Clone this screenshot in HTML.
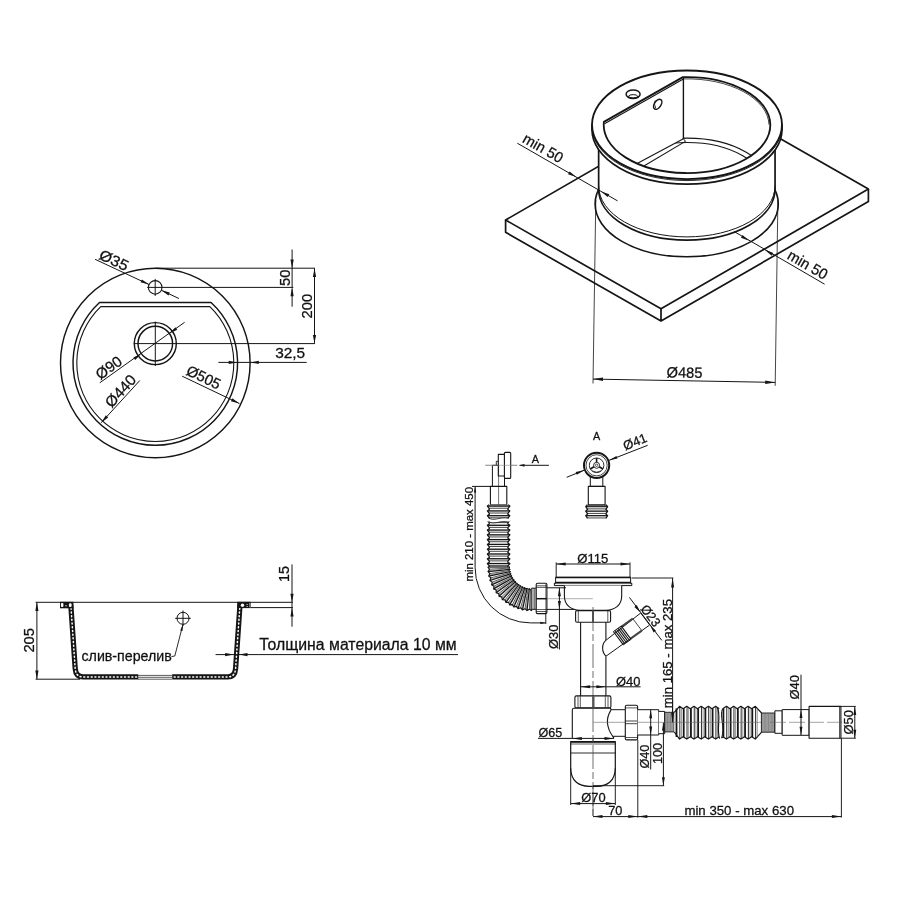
<!DOCTYPE html>
<html><head><meta charset="utf-8"><title>Sink drawing</title>
<style>
html,body{margin:0;padding:0;background:#fff;}
body{width:900px;height:900px;overflow:hidden;}
svg{display:block;filter:grayscale(1)}
svg text{font-family:"Liberation Sans",sans-serif;fill:#111;stroke:#111;stroke-width:0.28px}
</style></head><body>
<svg width="900" height="900" viewBox="0 0 900 900" fill="none" stroke="#151515" stroke-linecap="butt" stroke-linejoin="round">
<rect x="0" y="0" width="900" height="900" fill="#fff" stroke="none"/>
<g id="topview">
<circle cx="155.30" cy="363.00" r="94.80" stroke-width="1.45" fill="none"/>
<path d="M99.51,302.50 L211.09,302.50 A82.3,82.3 0 1 1 99.51,302.50 Z" stroke-width="1.45" fill="none" />
<path d="M100.70,306.60 L209.90,306.60 A78.5,78.5 0 1 1 100.70,306.60 Z" stroke-width="1.1" fill="none" />
<circle cx="155.30" cy="343.60" r="21.00" stroke-width="1.45" fill="none"/>
<circle cx="155.30" cy="343.60" r="17.30" stroke-width="1.45" fill="none"/>
<line x1="133.80" y1="343.60" x2="314.90" y2="343.60" stroke-width="1.0" />
<line x1="155.30" y1="321.60" x2="155.30" y2="366.00" stroke-width="1.0" />
<circle cx="155.20" cy="287.40" r="6.80" stroke-width="1.1" fill="none"/>
<line x1="155.20" y1="278.90" x2="155.20" y2="295.90" stroke-width="1.0" />
<line x1="147.20" y1="287.40" x2="293.30" y2="287.40" stroke-width="1.0" />
<line x1="155.30" y1="268.20" x2="314.90" y2="268.20" stroke-width="1.0" />
<line x1="292.10" y1="249.50" x2="292.10" y2="287.40" stroke-width="1.0" />
<line x1="292.10" y1="288.50" x2="292.10" y2="306.70" stroke-width="1.0" />
<polygon points="292.10,268.20 290.50,259.60 293.70,259.60" fill="#151515" stroke="none"/>
<polygon points="292.10,287.60 293.70,296.20 290.50,296.20" fill="#151515" stroke="none"/>
<text x="290.20" y="286.00" font-size="15" text-anchor="start" textLength="16.3" lengthAdjust="spacingAndGlyphs" transform="rotate(-90.00 290.20 286.00)">50</text>
<line x1="314.50" y1="268.20" x2="314.50" y2="343.60" stroke-width="1.0" />
<polygon points="314.50,268.30 316.10,276.90 312.90,276.90" fill="#151515" stroke="none"/>
<polygon points="314.50,343.50 312.90,334.90 316.10,334.90" fill="#151515" stroke="none"/>
<text x="312.40" y="318.50" font-size="15" text-anchor="start" textLength="24.6" lengthAdjust="spacingAndGlyphs" transform="rotate(-90.00 312.40 318.50)">200</text>
<line x1="218.40" y1="362.40" x2="306.70" y2="362.40" stroke-width="1.0" />
<polygon points="237.30,362.40 228.70,364.00 228.70,360.80" fill="#151515" stroke="none"/>
<polygon points="250.20,362.40 258.80,360.80 258.80,364.00" fill="#151515" stroke="none"/>
<text x="275.20" y="358.20" font-size="15.2" text-anchor="start" textLength="30.0" lengthAdjust="spacingAndGlyphs">32,5</text>
<line x1="95.10" y1="259.30" x2="149.04" y2="284.52" stroke-width="1.0" />
<line x1="161.36" y1="290.28" x2="178.90" y2="298.50" stroke-width="1.0" />
<polygon points="149.04,284.52 140.58,282.32 141.93,279.42" fill="#151515" stroke="none"/>
<polygon points="161.36,290.28 169.82,292.48 168.47,295.38" fill="#151515" stroke="none"/>
<text x="98.00" y="258.40" font-size="15" text-anchor="start" textLength="30.5" lengthAdjust="spacingAndGlyphs" transform="rotate(25.10 98.00 258.40)">Ø35</text>
<line x1="99.80" y1="382.80" x2="184.60" y2="322.30" stroke-width="1.0" />
<polygon points="141.27,353.72 135.23,360.05 133.36,357.45" fill="#151515" stroke="none"/>
<polygon points="169.33,333.48 175.37,327.15 177.24,329.75" fill="#151515" stroke="none"/>
<text x="100.30" y="380.20" font-size="15" text-anchor="start" textLength="28.5" lengthAdjust="spacingAndGlyphs" transform="rotate(-35.80 100.30 380.20)">Ø90</text>
<line x1="101.20" y1="422.70" x2="139.80" y2="380.50" stroke-width="1.0" />
<polygon points="101.20,422.70 105.83,415.28 108.19,417.44" fill="#151515" stroke="none"/>
<text x="111.50" y="408.50" font-size="15" text-anchor="start" textLength="38.0" lengthAdjust="spacingAndGlyphs" transform="rotate(-47.50 111.50 408.50)">Ø440</text>
<line x1="182.20" y1="376.20" x2="239.40" y2="403.50" stroke-width="1.0" />
<polygon points="239.40,403.50 230.95,401.24 232.33,398.35" fill="#151515" stroke="none"/>
<text x="185.20" y="374.20" font-size="15" text-anchor="start" textLength="36.0" lengthAdjust="spacingAndGlyphs" transform="rotate(25.50 185.20 374.20)">Ø505</text>
</g>
<g id="section">
<line x1="35.60" y1="602.30" x2="292.90" y2="602.30" stroke-width="1.0" />
<line x1="35.60" y1="679.20" x2="80.00" y2="679.20" stroke-width="1.0" />
<line x1="36.90" y1="602.30" x2="36.90" y2="679.20" stroke-width="1.0" />
<polygon points="36.90,602.30 38.50,610.90 35.30,610.90" fill="#151515" stroke="none"/>
<polygon points="36.90,679.20 35.30,670.60 38.50,670.60" fill="#151515" stroke="none"/>
<text x="34.20" y="652.60" font-size="15" text-anchor="start" textLength="24.6" lengthAdjust="spacingAndGlyphs" transform="rotate(-90.00 34.20 652.60)">205</text>
<path d="M70.8,604.6 L75.2,668.5 Q75.8,676.9 83.0,676.9 L138.2,676.9" stroke-width="5.3" fill="none" stroke-linejoin="round"/>
<path d="M70.8,604.6 L75.2,668.5 Q75.8,676.9 83.0,676.9 L138.2,676.9" style="stroke:#fff" stroke-width="1.5" stroke-dasharray="1.0 2.7" stroke-linecap="round" fill="none"/>
<path d="M240.0,604.6 L235.6,668.5 Q235.0,676.9 227.8,676.9 L172.2,676.9" stroke-width="5.3" fill="none" stroke-linejoin="round"/>
<path d="M240.0,604.6 L235.6,668.5 Q235.0,676.9 227.8,676.9 L172.2,676.9" style="stroke:#fff" stroke-width="1.5" stroke-dasharray="1.0 2.7" stroke-linecap="round" fill="none"/>
<line x1="138.00" y1="675.40" x2="172.00" y2="675.40" stroke-width="0.7" />
<line x1="138.00" y1="677.30" x2="172.00" y2="677.30" stroke-width="0.7" />
<line x1="138.00" y1="679.20" x2="172.00" y2="679.20" stroke-width="0.7" />
<rect x="60.0" y="601.8" width="13.4" height="6.5" fill="#151515" stroke="none"/>
<rect x="60.9" y="603.1" width="2.5" height="3.9" rx="0.9" fill="#fff" stroke="none"/>
<rect x="65.0" y="605.5" width="2.1" height="0.7" fill="#fff" stroke="none"/>
<rect x="68.9" y="603.3" width="2.7" height="3.8" rx="1.1" fill="#fff" stroke="none"/>
<rect x="237.2" y="601.8" width="13.4" height="6.3" fill="#151515" stroke="none"/>
<circle cx="242.5" cy="605.2" r="1.7" fill="#fff" stroke="none"/>
<rect x="246.4" y="604.4" width="1.6" height="0.6" fill="#fff" stroke="none"/>
<rect x="246.4" y="606.1" width="1.6" height="0.6" fill="#fff" stroke="none"/>
<rect x="249.2" y="603.0" width="0.5" height="4.2" fill="#ddd" stroke="none"/>
<line x1="250.60" y1="607.60" x2="292.90" y2="607.60" stroke-width="1.0" />
<line x1="292.00" y1="564.40" x2="292.00" y2="626.70" stroke-width="1.0" />
<polygon points="292.00,602.30 290.40,593.70 293.60,593.70" fill="#151515" stroke="none"/>
<polygon points="292.00,607.80 293.60,616.40 290.40,616.40" fill="#151515" stroke="none"/>
<text x="289.40" y="581.90" font-size="15" text-anchor="start" textLength="16.0" lengthAdjust="spacingAndGlyphs" transform="rotate(-90.00 289.40 581.90)">15</text>
<circle cx="183.00" cy="618.30" r="6.00" stroke-width="1.0" fill="none"/>
<line x1="175.20" y1="618.30" x2="190.80" y2="618.30" stroke-width="1.0" />
<line x1="183.00" y1="610.50" x2="183.00" y2="626.10" stroke-width="1.0" />
<path d="M182.9,624.6 L174.8,656.0 L171.4,656.6" stroke-width="0.9" fill="none" />
<polygon points="183.00,624.40 182.51,630.99 180.19,630.38" fill="#151515" stroke="none"/>
<text x="81.50" y="661.10" font-size="15.0" text-anchor="start" textLength="90.3" lengthAdjust="spacingAndGlyphs">слив-перелив</text>
<line x1="215.60" y1="654.60" x2="458.00" y2="654.60" stroke-width="1.0" />
<polygon points="233.70,654.60 225.10,656.20 225.10,653.00" fill="#151515" stroke="none"/>
<polygon points="238.90,654.60 247.50,653.00 247.50,656.20" fill="#151515" stroke="none"/>
<text x="259.20" y="650.20" font-size="15.8" text-anchor="start" textLength="197.5" lengthAdjust="spacingAndGlyphs">Толщина материала 10 мм</text>
</g>
<g id="iso">
<path d="M505.6,220.0 L661.0,308.8 L868.4,189.1 L713.0,100.30000000000001 Z" stroke-width="1.7" fill="#fff" />
<path d="M505.6,220.0 V232.3 L661.0,321.1 L868.4,201.4 V189.1 M661.0,308.8 V321.1" stroke-width="1.7" fill="none" />
<ellipse cx="686.70" cy="204.00" rx="91.60" ry="52.80" stroke-width="1.6" fill="#fff" />
<path d="M598.65,125 V189.3 A88.2,50.9 0 0 0 775.0500000000001,189.3 V125 Z" stroke-width="1.7" fill="#fff" />
<path d="M598.65,186.0 A88.2,50.9 0 0 0 775.0500000000001,186.0" stroke-width="1.0" fill="none" />
<path d="M592.0,124.8 V129.8 A95.0,54.3 0 0 0 782.0,129.8 V124.8 Z" stroke-width="1.7" fill="#fff" />
<path d="M592.0,126.3 A95.0,54.3 0 0 0 782.0,126.3" stroke-width="0.9" fill="none" />
<ellipse cx="687.00" cy="124.80" rx="95.00" ry="54.30" stroke-width="1.9" fill="#fff" />
<clipPath id="opn"><path d="M603.9,121.9 A83.3,48.0 0 1 0 682.9,77.1 Z"/></clipPath>
<g clip-path="url(#opn)">
<ellipse cx="687.30" cy="186.10" rx="83.30" ry="48.00" stroke-width="1.1" fill="none" />
<ellipse cx="687.30" cy="187.70" rx="78.50" ry="45.20" stroke-width="1.1" fill="none" />
<path d="M600.9,121.9 L683.5,75.1 V138.5 L600.9,186.3 Z" stroke-width="0" fill="#fff" style="stroke:none"/>
<line x1="683.40" y1="77.00" x2="683.40" y2="138.90" stroke-width="1.4" />
<line x1="683.40" y1="138.70" x2="632.00" y2="166.20" stroke-width="1.1" />
<line x1="685.40" y1="141.40" x2="638.00" y2="169.50" stroke-width="1.1" />
<line x1="683.40" y1="138.70" x2="685.60" y2="141.40" stroke-width="1.0" />
<path d="M683.9,78.89999999999999 A81.7,46.7 0 0 1 768.9999999999999,124.7 " stroke-width="0.8" fill="none" />
</g>
<path d="M603.9,121.9 A83.3,48.0 0 1 0 682.9,77.1 Z" stroke-width="1.8" fill="none" />
<line x1="604.50" y1="123.70" x2="683.40" y2="78.90" stroke-width="1.1" />
<ellipse cx="633.10" cy="94.20" rx="7.00" ry="4.30" stroke-width="1.5" fill="none" />
<path d="M628.4,96.3 A4.8,2.1 0 0 1 637.8,96.3 A4.8,2.1 0 0 1 628.4,96.3" stroke-width="1.0" fill="none" />
<ellipse cx="657.7" cy="104.3" rx="5.6" ry="3.3" stroke-width="1.5" transform="rotate(-56 657.7 104.3)"/>
<path d="M655.2,100.5 Q653.6,104 655.6,108.0" stroke-width="0.9"/>
<line x1="517.30" y1="143.20" x2="617.60" y2="200.90" stroke-width="1.0" />
<polygon points="576.20,177.10 568.03,174.25 569.63,171.48" fill="#151515" stroke="none"/>
<polygon points="601.10,191.50 609.27,194.35 607.67,197.12" fill="#151515" stroke="none"/>
<text x="521.60" y="141.70" font-size="15" text-anchor="start" textLength="43.6" lengthAdjust="spacingAndGlyphs" transform="rotate(29.90 521.60 141.70)">min 50</text>
<line x1="734.20" y1="231.60" x2="824.60" y2="284.20" stroke-width="1.0" />
<polygon points="749.10,240.70 740.95,237.81 742.56,235.04" fill="#151515" stroke="none"/>
<polygon points="764.30,249.50 773.32,252.90 771.71,255.66" fill="#151515" stroke="none"/>
<text x="786.20" y="258.20" font-size="15" text-anchor="start" textLength="43.6" lengthAdjust="spacingAndGlyphs" transform="rotate(30.20 786.20 258.20)">min 50</text>
<line x1="595.80" y1="200.00" x2="593.00" y2="383.50" stroke-width="0.8" />
<line x1="777.90" y1="200.00" x2="775.20" y2="385.80" stroke-width="0.8" />
<line x1="593.00" y1="379.10" x2="775.20" y2="382.40" stroke-width="1.0" />
<polygon points="593.00,379.10 603.03,377.57 602.97,380.97" fill="#151515" stroke="none"/>
<polygon points="775.20,382.40 765.17,383.93 765.23,380.53" fill="#151515" stroke="none"/>
<text x="666.60" y="377.30" font-size="14.7" text-anchor="start" textLength="35.8" lengthAdjust="spacingAndGlyphs" transform="rotate(1.00 666.60 377.30)">Ø485</text>
</g>
<g id="siphon">
<line x1="485.30" y1="465.30" x2="517.30" y2="465.30" stroke-width="0.7" style="stroke:#888"/>
<rect x="492.40" y="465.30" width="12.10" height="21.20" rx="0" ry="0" stroke-width="1.0" fill="#fff"/>
<rect x="496.30" y="461.30" width="2.20" height="4.00" rx="0" ry="0" stroke-width="0.9" fill="#fff"/>
<rect x="498.30" y="454.40" width="6.30" height="21.60" rx="0.3" ry="0.3" stroke-width="1.1" fill="#fff"/>
<rect x="504.40" y="452.40" width="6.30" height="26.00" rx="1.0" ry="1.0" stroke-width="1.1" fill="#fff"/>
<line x1="485.30" y1="465.30" x2="517.30" y2="465.30" stroke-width="0.6" style="stroke:#888"/>
<rect x="490.40" y="486.40" width="16.40" height="18.40" rx="0" ry="0" stroke-width="1.1" fill="#fff"/>
<line x1="498.60" y1="465.50" x2="498.60" y2="566.00" stroke-width="0.6" />
<line x1="519.50" y1="465.30" x2="548.90" y2="465.30" stroke-width="1.0" />
<polygon points="519.30,465.30 524.50,463.90 524.50,466.70" fill="#151515" stroke="none"/>
<text x="535.30" y="463.30" font-size="10.8" text-anchor="middle">A</text>
<rect x="488.60" y="504.80" width="20.00" height="62.20" fill="#fff" stroke="none"/>
<line x1="487.70" y1="506.14" x2="509.50" y2="506.14" stroke-width="1.35" />
<line x1="489.30" y1="508.24" x2="507.90" y2="508.24" stroke-width="0.8" />
<line x1="487.70" y1="510.92" x2="509.50" y2="510.92" stroke-width="1.35" />
<line x1="489.30" y1="513.03" x2="507.90" y2="513.03" stroke-width="0.8" />
<line x1="487.70" y1="515.71" x2="509.50" y2="515.71" stroke-width="1.35" />
<line x1="489.30" y1="517.81" x2="507.90" y2="517.81" stroke-width="0.8" />
<line x1="487.70" y1="520.49" x2="509.50" y2="520.49" stroke-width="1.35" />
<line x1="489.30" y1="522.60" x2="507.90" y2="522.60" stroke-width="0.8" />
<line x1="487.70" y1="525.28" x2="509.50" y2="525.28" stroke-width="1.35" />
<line x1="489.30" y1="527.38" x2="507.90" y2="527.38" stroke-width="0.8" />
<line x1="487.70" y1="530.06" x2="509.50" y2="530.06" stroke-width="1.35" />
<line x1="489.30" y1="532.17" x2="507.90" y2="532.17" stroke-width="0.8" />
<line x1="487.70" y1="534.85" x2="509.50" y2="534.85" stroke-width="1.35" />
<line x1="489.30" y1="536.95" x2="507.90" y2="536.95" stroke-width="0.8" />
<line x1="487.70" y1="539.63" x2="509.50" y2="539.63" stroke-width="1.35" />
<line x1="489.30" y1="541.74" x2="507.90" y2="541.74" stroke-width="0.8" />
<line x1="487.70" y1="544.42" x2="509.50" y2="544.42" stroke-width="1.35" />
<line x1="489.30" y1="546.52" x2="507.90" y2="546.52" stroke-width="0.8" />
<line x1="487.70" y1="549.20" x2="509.50" y2="549.20" stroke-width="1.35" />
<line x1="489.30" y1="551.31" x2="507.90" y2="551.31" stroke-width="0.8" />
<line x1="487.70" y1="553.99" x2="509.50" y2="553.99" stroke-width="1.35" />
<line x1="489.30" y1="556.09" x2="507.90" y2="556.09" stroke-width="0.8" />
<line x1="487.70" y1="558.77" x2="509.50" y2="558.77" stroke-width="1.35" />
<line x1="489.30" y1="560.88" x2="507.90" y2="560.88" stroke-width="0.8" />
<line x1="487.70" y1="563.56" x2="509.50" y2="563.56" stroke-width="1.35" />
<line x1="489.30" y1="565.66" x2="507.90" y2="565.66" stroke-width="0.8" />
<path d="M489.20,504.80 L487.40,506.14 L489.30,508.53 L489.30,509.58 L487.40,510.92 L489.30,513.32 L489.30,514.37 L487.40,515.71 L489.30,518.10 L489.30,519.15 L487.40,520.49 L489.30,522.89 L489.30,523.94 L487.40,525.28 L489.30,527.67 L489.30,528.72 L487.40,530.06 L489.30,532.46 L489.30,533.51 L487.40,534.85 L489.30,537.24 L489.30,538.29 L487.40,539.63 L489.30,542.02 L489.30,543.08 L487.40,544.42 L489.30,546.81 L489.30,547.86 L487.40,549.20 L489.30,551.59 L489.30,552.65 L487.40,553.99 L489.30,556.38 L489.30,557.43 L487.40,558.77 L489.30,561.16 L489.30,562.22 L487.40,563.56 L489.30,565.95 L489.30,567.00 " stroke-width="1.3" fill="none" />
<path d="M508.00,504.80 L509.80,506.14 L507.90,508.53 L507.90,509.58 L509.80,510.92 L507.90,513.32 L507.90,514.37 L509.80,515.71 L507.90,518.10 L507.90,519.15 L509.80,520.49 L507.90,522.89 L507.90,523.94 L509.80,525.28 L507.90,527.67 L507.90,528.72 L509.80,530.06 L507.90,532.46 L507.90,533.51 L509.80,534.85 L507.90,537.24 L507.90,538.29 L509.80,539.63 L507.90,542.02 L507.90,543.08 L509.80,544.42 L507.90,546.81 L507.90,547.86 L509.80,549.20 L507.90,551.59 L507.90,552.65 L509.80,553.99 L507.90,556.38 L507.90,557.43 L509.80,558.77 L507.90,561.16 L507.90,562.22 L509.80,563.56 L507.90,565.95 L507.90,567.00 " stroke-width="1.3" fill="none" />
<rect x="488.59999999999997" y="505.0" width="20.000000000000036" height="1.5" fill="#555" stroke="none"/>
<path d="M486.4,519.4 C494,524 500,517 510.8,520.2 " stroke-width="3.4" fill="none" style="stroke:#fff"/>
<path d="M488.4,517.6 C494,522.1 500,516.1 508.8,518.4" stroke-width="0.8" fill="none" />
<path d="M488.4,521.2 C494,525.8 500,519.6 508.8,522.2" stroke-width="0.8" fill="none" />
<line x1="510.00" y1="567.00" x2="487.80" y2="567.00" stroke-width="1.25" />
<line x1="509.03" y1="568.18" x2="489.66" y2="569.20" stroke-width="0.7" />
<line x1="502.10" y1="569.42" x2="488.94" y2="570.49" stroke-width="0.5" style="stroke:#555"/>
<line x1="510.12" y1="569.26" x2="488.04" y2="571.58" stroke-width="1.25" />
<line x1="509.28" y1="570.54" x2="490.12" y2="573.57" stroke-width="0.7" />
<line x1="502.51" y1="572.49" x2="489.54" y2="574.93" stroke-width="0.5" style="stroke:#555"/>
<line x1="510.47" y1="571.49" x2="488.76" y2="576.11" stroke-width="1.25" />
<line x1="509.77" y1="572.85" x2="491.03" y2="577.87" stroke-width="0.7" />
<line x1="503.25" y1="575.50" x2="490.60" y2="579.28" stroke-width="0.5" style="stroke:#555"/>
<line x1="511.06" y1="573.67" x2="489.94" y2="580.53" stroke-width="1.25" />
<line x1="510.50" y1="575.10" x2="492.39" y2="582.05" stroke-width="0.7" />
<line x1="504.29" y1="578.41" x2="492.11" y2="583.50" stroke-width="0.5" style="stroke:#555"/>
<line x1="511.87" y1="575.79" x2="491.59" y2="584.82" stroke-width="1.25" />
<line x1="511.46" y1="577.26" x2="494.18" y2="586.07" stroke-width="0.7" />
<line x1="505.63" y1="581.21" x2="494.05" y2="587.54" stroke-width="0.5" style="stroke:#555"/>
<line x1="512.89" y1="577.80" x2="493.67" y2="588.90" stroke-width="1.25" />
<line x1="512.65" y1="579.31" x2="496.38" y2="589.87" stroke-width="0.7" />
<line x1="507.26" y1="583.84" x2="496.40" y2="591.35" stroke-width="0.5" style="stroke:#555"/>
<line x1="514.13" y1="579.70" x2="496.17" y2="592.74" stroke-width="1.25" />
<line x1="514.04" y1="581.22" x2="498.96" y2="593.43" stroke-width="0.7" />
<line x1="509.15" y1="586.29" x2="499.14" y2="594.90" stroke-width="0.5" style="stroke:#555"/>
<line x1="515.55" y1="581.45" x2="499.05" y2="596.31" stroke-width="1.25" />
<line x1="515.62" y1="582.98" x2="501.90" y2="596.70" stroke-width="0.7" />
<line x1="511.29" y1="588.53" x2="502.24" y2="598.14" stroke-width="0.5" style="stroke:#555"/>
<line x1="517.15" y1="583.05" x2="502.29" y2="599.55" stroke-width="1.25" />
<line x1="517.38" y1="584.56" x2="505.17" y2="599.64" stroke-width="0.7" />
<line x1="513.65" y1="590.54" x2="505.65" y2="601.04" stroke-width="0.5" style="stroke:#555"/>
<line x1="518.90" y1="584.47" x2="505.86" y2="602.43" stroke-width="1.25" />
<line x1="519.29" y1="585.95" x2="508.73" y2="602.22" stroke-width="0.7" />
<line x1="516.21" y1="592.29" x2="509.35" y2="603.56" stroke-width="0.5" style="stroke:#555"/>
<line x1="520.80" y1="585.71" x2="509.70" y2="604.93" stroke-width="1.25" />
<line x1="521.34" y1="587.14" x2="512.53" y2="604.42" stroke-width="0.7" />
<line x1="518.94" y1="593.76" x2="513.30" y2="605.69" stroke-width="0.5" style="stroke:#555"/>
<line x1="522.81" y1="586.73" x2="513.78" y2="607.01" stroke-width="1.25" />
<line x1="523.50" y1="588.10" x2="516.55" y2="606.21" stroke-width="0.7" />
<line x1="521.81" y1="594.93" x2="517.44" y2="607.39" stroke-width="0.5" style="stroke:#555"/>
<line x1="524.93" y1="587.54" x2="518.07" y2="608.66" stroke-width="1.25" />
<line x1="525.75" y1="588.83" x2="520.73" y2="607.57" stroke-width="0.7" />
<line x1="524.78" y1="595.80" x2="521.74" y2="608.65" stroke-width="0.5" style="stroke:#555"/>
<line x1="527.11" y1="588.13" x2="522.49" y2="609.84" stroke-width="1.25" />
<line x1="528.06" y1="589.32" x2="525.03" y2="608.48" stroke-width="0.7" />
<line x1="527.83" y1="596.36" x2="526.15" y2="609.45" stroke-width="0.5" style="stroke:#555"/>
<line x1="529.34" y1="588.48" x2="527.02" y2="610.56" stroke-width="1.25" />
<line x1="530.42" y1="589.57" x2="529.40" y2="608.94" stroke-width="0.7" />
<line x1="530.92" y1="596.59" x2="530.61" y2="609.79" stroke-width="0.5" style="stroke:#555"/>
<line x1="531.60" y1="588.60" x2="531.60" y2="610.80" stroke-width="1.25" />
<path d="M487.80,567.00 L489.46,569.21 L488.04,571.58 L489.92,573.60 L488.76,576.11 L490.84,577.92 L489.94,580.53 L492.20,582.12 L491.59,584.82 L494.00,586.16 L493.67,588.90 L496.21,589.98 L496.17,592.74 L498.80,593.56 L499.05,596.31 L501.76,596.84 L502.29,599.55 L505.04,599.80 L505.86,602.43 L508.62,602.39 L509.70,604.93 L512.44,604.60 L513.78,607.01 L516.48,606.40 L518.07,608.66 L520.68,607.76 L522.49,609.84 L525.00,608.68 L527.02,610.56 L529.39,609.14 L531.60,610.80 " stroke-width="1.2" fill="none" />
<path d="M510.00,567.00 L508.83,568.19 L510.12,569.26 L509.08,570.57 L510.47,571.49 L509.58,572.90 L511.06,573.67 L510.31,575.17 L511.87,575.79 L511.29,577.35 L512.89,577.80 L512.48,579.42 L514.13,579.70 L513.88,581.35 L515.55,581.45 L515.48,583.12 L517.15,583.05 L517.25,584.72 L518.90,584.47 L519.18,586.12 L520.80,585.71 L521.25,587.31 L522.81,586.73 L523.43,588.29 L524.93,587.54 L525.70,589.02 L527.11,588.13 L528.03,589.52 L529.34,588.48 L530.41,589.77 L531.60,588.60 " stroke-width="1.0" fill="none" />
<rect x="531.20" y="588.20" width="5.20" height="21.10" rx="0.5" ry="0.5" stroke-width="1.0" fill="#fff"/>
<line x1="533.00" y1="588.20" x2="533.00" y2="609.30" stroke-width="0.7" />
<line x1="534.70" y1="588.20" x2="534.70" y2="609.30" stroke-width="0.7" />
<rect x="536.20" y="583.30" width="10.70" height="30.30" rx="1.3" ry="1.3" stroke-width="1.1" fill="#fff"/>
<line x1="536.20" y1="585.80" x2="546.90" y2="585.80" stroke-width="0.7" />
<line x1="536.20" y1="587.40" x2="546.90" y2="587.40" stroke-width="0.7" />
<line x1="536.20" y1="598.70" x2="546.90" y2="598.70" stroke-width="1.5" />
<line x1="536.20" y1="609.50" x2="546.90" y2="609.50" stroke-width="0.7" />
<line x1="536.20" y1="611.50" x2="546.90" y2="611.50" stroke-width="0.7" />
<line x1="545.80" y1="584.00" x2="545.80" y2="613.00" stroke-width="0.6" />
<line x1="546.90" y1="587.80" x2="566.00" y2="587.80" stroke-width="1.0" />
<line x1="546.90" y1="609.40" x2="575.00" y2="609.40" stroke-width="1.0" />
<line x1="546.90" y1="598.70" x2="592.80" y2="598.70" stroke-width="0.6" style="stroke:#777"/>
<line x1="472.00" y1="486.40" x2="490.40" y2="486.40" stroke-width="1.0" />
<path d="M475.1,486.4 V567.5 A55.4,55.4 0 0 0 530.5,622.9 H545.7" stroke-width="1.0" fill="none" />
<polygon points="475.10,486.50 476.25,492.50 473.95,492.50" fill="#151515" stroke="none"/>
<polygon points="545.80,622.90 540.30,624.05 540.30,621.75" fill="#151515" stroke="none"/>
<line x1="545.80" y1="613.60" x2="545.80" y2="624.00" stroke-width="0.95" />
<text x="473.30" y="581.60" font-size="11.4" text-anchor="start" textLength="94.6" lengthAdjust="spacingAndGlyphs" transform="rotate(-90.00 473.30 581.60)">min 210 - max 450</text>
<line x1="559.40" y1="587.80" x2="559.40" y2="649.50" stroke-width="1.0" />
<polygon points="559.40,587.80 560.90,596.30 557.90,596.30" fill="#151515" stroke="none"/>
<polygon points="559.40,609.40 557.90,600.90 560.90,600.90" fill="#151515" stroke="none"/>
<text x="557.60" y="649.00" font-size="13.0" text-anchor="start" textLength="24.4" lengthAdjust="spacingAndGlyphs" transform="rotate(-90.00 557.60 649.00)">Ø30</text>
<line x1="556.20" y1="562.40" x2="556.20" y2="577.00" stroke-width="0.95" />
<line x1="630.00" y1="562.40" x2="630.00" y2="577.00" stroke-width="0.95" />
<line x1="556.20" y1="564.00" x2="630.00" y2="564.00" stroke-width="1.0" />
<polygon points="556.20,564.00 565.70,562.50 565.70,565.50" fill="#151515" stroke="none"/>
<polygon points="630.00,564.00 620.50,565.50 620.50,562.50" fill="#151515" stroke="none"/>
<text x="577.30" y="562.60" font-size="13.0" text-anchor="start" textLength="31.1" lengthAdjust="spacingAndGlyphs">Ø115</text>
<path d="M555.6,577.3 H630.6 V583.2 H631.8 V585.6 H554.4 V583.2 H555.6 Z" stroke-width="1.0" fill="#fff" />
<line x1="555.60" y1="577.50" x2="630.60" y2="577.50" stroke-width="1.7" />
<line x1="555.60" y1="582.30" x2="630.60" y2="582.30" stroke-width="1.3" />
<line x1="554.40" y1="583.60" x2="631.80" y2="583.60" stroke-width="0.7" />
<path d="M564.4,585.6 V596 C564.4,605.5 571.5,610.2 580,610.2 H606 C614.5,610.2 621.7,605.5 621.7,596 V585.6" stroke-width="1.1" fill="#fff" />
<line x1="565.00" y1="598.70" x2="592.80" y2="598.70" stroke-width="0.6" style="stroke:#777"/>
<line x1="566.00" y1="587.80" x2="564.60" y2="587.80" stroke-width="1.0" />
<rect x="575.60" y="610.60" width="35.00" height="11.60" rx="1.5" ry="1.5" stroke-width="1.1" fill="#fff"/>
<line x1="578.30" y1="611.00" x2="578.30" y2="622.00" stroke-width="0.7" />
<line x1="607.80" y1="611.00" x2="607.80" y2="622.00" stroke-width="0.7" />
<line x1="593.00" y1="610.60" x2="593.00" y2="622.20" stroke-width="1.8" style="stroke:#444"/>
<line x1="580.60" y1="622.20" x2="580.60" y2="696.00" stroke-width="1.1" />
<line x1="605.90" y1="622.20" x2="605.90" y2="640.20" stroke-width="1.1" />
<line x1="605.90" y1="656.20" x2="605.90" y2="696.00" stroke-width="1.1" />
<line x1="593.00" y1="607.00" x2="593.00" y2="817.40" stroke-width="0.8" stroke-dasharray="24 3 7 3" style="stroke:#4a4a4a"/>
<line x1="580.60" y1="686.80" x2="640.60" y2="686.80" stroke-width="1.0" />
<polygon points="580.60,686.80 590.10,685.30 590.10,688.30" fill="#151515" stroke="none"/>
<polygon points="605.90,686.80 596.40,688.30 596.40,685.30" fill="#151515" stroke="none"/>
<text x="616.00" y="685.80" font-size="13.0" text-anchor="start" textLength="24.4" lengthAdjust="spacingAndGlyphs">Ø40</text>
</g>
<g id="siphon2">
<path d="M606.0,640.2 L640.7,613.0 L649.7,625.0 L606.0,656.2" stroke-width="1.0" fill="#fff" />
<path d="M606.0,640.2 C601.5,644 601.5,652 606.0,656.2" stroke-width="1.1" fill="#fff" />
<line x1="632.81" y1="618.65" x2="641.81" y2="630.65" stroke-width="0.8" />
<line x1="632.81" y1="618.65" x2="621.59" y2="626.68" stroke-width="2.0" style="stroke:#444"/>
<line x1="641.81" y1="630.65" x2="630.59" y2="638.68" stroke-width="2.0" style="stroke:#444"/>
<line x1="621.07" y1="625.95" x2="631.12" y2="639.41" stroke-width="1.1" />
<line x1="619.52" y1="627.05" x2="629.57" y2="640.52" stroke-width="1.1" />
<line x1="617.98" y1="628.16" x2="628.03" y2="641.62" stroke-width="1.1" />
<line x1="616.43" y1="629.27" x2="626.48" y2="642.73" stroke-width="1.1" />
<line x1="614.89" y1="630.37" x2="624.94" y2="643.84" stroke-width="1.1" />
<line x1="613.34" y1="631.48" x2="623.39" y2="644.94" stroke-width="1.1" />
<line x1="621.13" y1="626.03" x2="613.40" y2="631.56" stroke-width="0.9" />
<line x1="631.06" y1="639.33" x2="623.33" y2="644.86" stroke-width="0.9" />
<line x1="629.40" y1="597.40" x2="661.80" y2="640.40" stroke-width="1.0" />
<polygon points="640.40,612.40 634.39,606.91 636.78,605.11" fill="#151515" stroke="none"/>
<polygon points="650.00,625.30 656.01,630.79 653.62,632.59" fill="#151515" stroke="none"/>
<text x="639.90" y="608.90" font-size="13.0" text-anchor="start" textLength="23.5" lengthAdjust="spacingAndGlyphs" transform="rotate(53.00 639.90 608.90)">Ø23</text>
<line x1="631.60" y1="578.00" x2="673.30" y2="578.00" stroke-width="0.95" />
<line x1="672.60" y1="578.00" x2="672.60" y2="722.30" stroke-width="1.0" />
<polygon points="672.60,578.00 674.10,587.50 671.10,587.50" fill="#151515" stroke="none"/>
<polygon points="672.60,722.30 671.10,712.80 674.10,712.80" fill="#151515" stroke="none"/>
<text x="672.20" y="708.20" font-size="13.2" text-anchor="start" textLength="109.2" lengthAdjust="spacingAndGlyphs" transform="rotate(-90.00 672.20 708.20)">min 165 - max 235</text>
<text x="596.60" y="440.00" font-size="10.8" text-anchor="middle">A</text>
<rect x="590.30" y="476.00" width="12.50" height="10.40" rx="0" ry="0" stroke-width="1.0" fill="#fff"/>
<rect x="588.30" y="486.40" width="16.80" height="18.40" rx="0" ry="0" stroke-width="1.1" fill="#fff"/>
<circle cx="596.60" cy="465.30" r="12.60" stroke-width="2.0" fill="#fff"/>
<circle cx="596.60" cy="465.30" r="10.60" stroke-width="0.8" fill="none"/>
<circle cx="596.60" cy="465.30" r="7.30" stroke-width="0.9" fill="none"/>
<circle cx="596.60" cy="465.30" r="3.00" stroke-width="0.9" fill="none"/>
<circle cx="596.60" cy="465.30" r="1.20" stroke-width="0.7" fill="none"/>
<line x1="596.60" y1="462.30" x2="596.60" y2="458.00" stroke-width="1.6" />
<line x1="599.20" y1="466.80" x2="602.92" y2="468.95" stroke-width="1.6" />
<line x1="594.00" y1="466.80" x2="590.28" y2="468.95" stroke-width="1.6" />
<path d="M592.1,470.90000000000003 Q596.6,473.5 601.1,470.90000000000003" stroke-width="0.7" fill="none" />
<line x1="585.80" y1="506.61" x2="607.60" y2="506.61" stroke-width="1.3" />
<line x1="587.60" y1="508.88" x2="605.80" y2="508.88" stroke-width="0.8" />
<line x1="585.80" y1="511.15" x2="607.60" y2="511.15" stroke-width="1.3" />
<line x1="587.60" y1="513.41" x2="605.80" y2="513.41" stroke-width="0.8" />
<line x1="585.80" y1="515.68" x2="607.60" y2="515.68" stroke-width="1.3" />
<line x1="587.60" y1="517.95" x2="605.80" y2="517.95" stroke-width="0.8" />
<path d="M587.40,504.80 L585.80,506.61 L587.60,509.33 L585.80,511.15 L587.60,513.87 L585.80,515.68 L587.60,518.40 " stroke-width="1.3" fill="none" />
<path d="M606.00,504.80 L607.60,506.61 L605.80,509.33 L607.60,511.15 L605.80,513.87 L607.60,515.68 L605.80,518.40 " stroke-width="1.3" fill="none" />
<rect x="587.2" y="505.0" width="19" height="1.4" fill="#555" stroke="none"/>
<line x1="566.70" y1="477.30" x2="584.14" y2="470.23" stroke-width="1.0" />
<line x1="609.06" y1="460.37" x2="647.70" y2="445.30" stroke-width="1.0" />
<polygon points="584.14,470.23 576.77,474.71 575.70,472.01" fill="#151515" stroke="none"/>
<polygon points="609.06,460.37 616.43,455.89 617.50,458.59" fill="#151515" stroke="none"/>
<text x="625.30" y="450.40" font-size="13.0" text-anchor="start" textLength="24.4" lengthAdjust="spacingAndGlyphs" transform="rotate(-21.60 625.30 450.40)">Ø41</text>
<rect x="574.90" y="695.90" width="36.00" height="12.00" rx="1.5" ry="1.5" stroke-width="1.1" fill="#fff"/>
<line x1="578.00" y1="696.20" x2="578.00" y2="707.60" stroke-width="0.7" />
<line x1="580.30" y1="696.20" x2="580.30" y2="707.60" stroke-width="0.7" />
<line x1="605.30" y1="696.20" x2="605.30" y2="707.60" stroke-width="0.7" />
<line x1="608.00" y1="696.20" x2="608.00" y2="707.60" stroke-width="0.7" />
<line x1="593.30" y1="695.90" x2="593.30" y2="707.90" stroke-width="2.4" style="stroke:#555"/>
<path d="M572.3,738.3 V710 Q572.3,708.3 574,708.3 H610 Q611.6,708.6 610.6,710.6 C606.2,718 606.2,727 612.7,736.3 L614.0,738.3" stroke-width="1.1" fill="#fff" />
<line x1="611.00" y1="709.70" x2="625.30" y2="709.70" stroke-width="1.0" />
<line x1="612.70" y1="736.30" x2="625.30" y2="736.30" stroke-width="1.0" />
<line x1="593.30" y1="722.30" x2="672.00" y2="722.30" stroke-width="0.6" style="stroke:#666"/>
<rect x="625.30" y="705.30" width="12.30" height="34.60" rx="1.5" ry="1.5" stroke-width="1.1" fill="#fff"/>
<line x1="625.30" y1="707.90" x2="637.60" y2="707.90" stroke-width="0.7" />
<line x1="625.30" y1="737.50" x2="637.60" y2="737.50" stroke-width="0.7" />
<line x1="625.30" y1="721.00" x2="637.60" y2="721.00" stroke-width="0.8" />
<line x1="625.30" y1="723.70" x2="637.60" y2="723.70" stroke-width="0.8" />
<path d="M637.6,709.7 H658.7 V735.0 H637.6" stroke-width="1.0" fill="#fff" />
<path d="M658.7,711.4 H664.7 V733.7 H658.7" stroke-width="1.0" fill="#fff" />
<rect x="664.7" y="712.3" width="9.5" height="19.6" fill="#9a9a9a" stroke-width="0.9"/>
<line x1="637.60" y1="722.30" x2="676.00" y2="722.30" stroke-width="0.6" style="stroke:#666"/>
<line x1="538.00" y1="738.40" x2="614.00" y2="738.40" stroke-width="1.0" />
<polygon points="572.30,738.40 581.80,736.90 581.80,739.90" fill="#151515" stroke="none"/>
<polygon points="614.00,738.40 604.50,739.90 604.50,736.90" fill="#151515" stroke="none"/>
<text x="538.40" y="737.00" font-size="13.0" text-anchor="start" textLength="23.8" lengthAdjust="spacingAndGlyphs">Ø65</text>
<path d="M570.7,741.7 H615.3 V768 C615.3,781 607,786.3 597,786.3 H589 C579,786.3 570.7,781 570.7,768 Z" stroke-width="1.2" fill="#fff" />
<line x1="570.70" y1="742.00" x2="615.30" y2="742.00" stroke-width="1.4" />
<line x1="570.70" y1="744.00" x2="615.30" y2="744.00" stroke-width="0.7" />
<line x1="570.70" y1="753.00" x2="615.30" y2="753.00" stroke-width="0.9" />
<line x1="593.00" y1="708.00" x2="593.00" y2="817.40" stroke-width="0.8" stroke-dasharray="24 3 7 3" style="stroke:#4a4a4a"/>
<line x1="570.70" y1="768.00" x2="570.70" y2="805.00" stroke-width="0.95" />
<line x1="615.30" y1="768.00" x2="615.30" y2="805.00" stroke-width="0.95" />
<line x1="570.70" y1="803.60" x2="615.30" y2="803.60" stroke-width="1.0" />
<polygon points="570.70,803.60 580.20,802.10 580.20,805.10" fill="#151515" stroke="none"/>
<polygon points="615.30,803.60 605.80,805.10 605.80,802.10" fill="#151515" stroke="none"/>
<text x="581.20" y="802.20" font-size="13.0" text-anchor="start" textLength="24.4" lengthAdjust="spacingAndGlyphs">Ø70</text>
<line x1="637.80" y1="739.90" x2="637.80" y2="817.60" stroke-width="0.95" />
<line x1="593.00" y1="816.60" x2="841.40" y2="816.60" stroke-width="1.0" />
<polygon points="593.00,816.60 602.50,815.10 602.50,818.10" fill="#151515" stroke="none"/>
<polygon points="637.80,816.60 628.30,818.10 628.30,815.10" fill="#151515" stroke="none"/>
<polygon points="637.80,816.60 647.30,815.10 647.30,818.10" fill="#151515" stroke="none"/>
<polygon points="841.40,816.60 831.90,818.10 831.90,815.10" fill="#151515" stroke="none"/>
<text x="608.20" y="815.00" font-size="13.0" text-anchor="start" textLength="14.2" lengthAdjust="spacingAndGlyphs">70</text>
<text x="684.40" y="815.30" font-size="13.2" text-anchor="start" textLength="109.6" lengthAdjust="spacingAndGlyphs">min 350 - max 630</text>
<line x1="841.40" y1="738.20" x2="841.40" y2="817.60" stroke-width="0.95" />
<line x1="593.00" y1="785.70" x2="664.20" y2="785.70" stroke-width="0.95" />
<line x1="663.40" y1="722.60" x2="663.40" y2="785.70" stroke-width="1.0" />
<polygon points="663.40,785.50 661.95,777.30 664.85,777.30" fill="#151515" stroke="none"/>
<polygon points="663.40,723.00 664.80,730.60 662.00,730.60" fill="#151515" stroke="none"/>
<text x="662.00" y="763.90" font-size="13.0" text-anchor="start" textLength="21.0" lengthAdjust="spacingAndGlyphs" transform="rotate(-90.00 662.00 763.90)">100</text>
<line x1="650.70" y1="709.70" x2="650.70" y2="769.50" stroke-width="1.0" />
<polygon points="650.70,709.70 652.15,718.20 649.25,718.20" fill="#151515" stroke="none"/>
<polygon points="650.70,735.00 649.25,726.50 652.15,726.50" fill="#151515" stroke="none"/>
<text x="648.80" y="768.60" font-size="13.0" text-anchor="start" textLength="24.0" lengthAdjust="spacingAndGlyphs" transform="rotate(-90.00 648.80 768.60)">Ø40</text>
<polygon points="674.30,712.30 679.50,706.30 683.11,708.70 686.72,706.30 690.33,708.70 693.94,706.30 697.55,708.70 701.16,706.30 704.77,708.70 708.38,706.30 711.99,708.70 715.60,706.30 719.21,708.70 719.21,736.70 715.60,739.10 711.99,736.70 708.38,739.10 704.77,736.70 701.16,739.10 697.55,736.70 693.94,739.10 690.33,736.70 686.72,739.10 683.11,736.70 679.50,739.10 674.30,732.00" fill="#fff" stroke="none"/>
<path d="M674.30,712.30 L679.50,706.30 L683.11,708.70 L686.72,706.30 L690.33,708.70 L693.94,706.30 L697.55,708.70 L701.16,706.30 L704.77,708.70 L708.38,706.30 L711.99,708.70 L715.60,706.30 L719.21,708.70" stroke-width="1.2" fill="none" />
<path d="M674.30,732.00 L679.50,739.10 L683.11,736.70 L686.72,739.10 L690.33,736.70 L693.94,739.10 L697.55,736.70 L701.16,739.10 L704.77,736.70 L708.38,739.10 L711.99,736.70 L715.60,739.10 L719.21,736.70" stroke-width="1.2" fill="none" />
<line x1="679.80" y1="706.70" x2="679.80" y2="738.70" stroke-width="0.9" />
<line x1="676.49" y1="708.40" x2="676.49" y2="737.00" stroke-width="1.8" />
<line x1="681.45" y1="707.74" x2="681.45" y2="737.66" stroke-width="0.6" style="stroke:#555"/>
<line x1="687.02" y1="706.70" x2="687.02" y2="738.70" stroke-width="0.9" />
<line x1="683.71" y1="708.40" x2="683.71" y2="737.00" stroke-width="1.8" />
<line x1="688.67" y1="707.74" x2="688.67" y2="737.66" stroke-width="0.6" style="stroke:#555"/>
<line x1="694.24" y1="706.70" x2="694.24" y2="738.70" stroke-width="0.9" />
<line x1="690.93" y1="708.40" x2="690.93" y2="737.00" stroke-width="1.8" />
<line x1="695.89" y1="707.74" x2="695.89" y2="737.66" stroke-width="0.6" style="stroke:#555"/>
<line x1="701.46" y1="706.70" x2="701.46" y2="738.70" stroke-width="0.9" />
<line x1="698.15" y1="708.40" x2="698.15" y2="737.00" stroke-width="1.8" />
<line x1="703.11" y1="707.74" x2="703.11" y2="737.66" stroke-width="0.6" style="stroke:#555"/>
<line x1="708.68" y1="706.70" x2="708.68" y2="738.70" stroke-width="0.9" />
<line x1="705.37" y1="708.40" x2="705.37" y2="737.00" stroke-width="1.8" />
<line x1="710.33" y1="707.74" x2="710.33" y2="737.66" stroke-width="0.6" style="stroke:#555"/>
<line x1="715.90" y1="706.70" x2="715.90" y2="738.70" stroke-width="0.9" />
<line x1="712.59" y1="708.40" x2="712.59" y2="737.00" stroke-width="1.8" />
<line x1="717.55" y1="707.74" x2="717.55" y2="737.66" stroke-width="0.6" style="stroke:#555"/>
<polygon points="722.81,708.70 726.42,706.30 730.03,708.70 733.64,706.30 737.25,708.70 740.86,706.30 744.47,708.70 748.08,706.30 751.69,708.70 755.30,706.30 761.60,713.00 761.60,732.20 755.30,739.10 751.69,736.70 748.08,739.10 744.47,736.70 740.86,739.10 737.25,736.70 733.64,739.10 730.03,736.70 726.42,739.10 722.81,736.70" fill="#fff" stroke="none"/>
<path d="M722.81,708.70 L726.42,706.30 L730.03,708.70 L733.64,706.30 L737.25,708.70 L740.86,706.30 L744.47,708.70 L748.08,706.30 L751.69,708.70 L755.30,706.30 L761.60,713.00" stroke-width="1.2" fill="none" />
<path d="M722.81,736.70 L726.42,739.10 L730.03,736.70 L733.64,739.10 L737.25,736.70 L740.86,739.10 L744.47,736.70 L748.08,739.10 L751.69,736.70 L755.30,739.10 L761.60,732.20" stroke-width="1.2" fill="none" />
<line x1="726.72" y1="706.70" x2="726.72" y2="738.70" stroke-width="0.9" />
<line x1="723.41" y1="708.40" x2="723.41" y2="737.00" stroke-width="1.8" />
<line x1="728.37" y1="707.74" x2="728.37" y2="737.66" stroke-width="0.6" style="stroke:#555"/>
<line x1="733.94" y1="706.70" x2="733.94" y2="738.70" stroke-width="0.9" />
<line x1="730.63" y1="708.40" x2="730.63" y2="737.00" stroke-width="1.8" />
<line x1="735.59" y1="707.74" x2="735.59" y2="737.66" stroke-width="0.6" style="stroke:#555"/>
<line x1="741.16" y1="706.70" x2="741.16" y2="738.70" stroke-width="0.9" />
<line x1="737.85" y1="708.40" x2="737.85" y2="737.00" stroke-width="1.8" />
<line x1="742.81" y1="707.74" x2="742.81" y2="737.66" stroke-width="0.6" style="stroke:#555"/>
<line x1="748.38" y1="706.70" x2="748.38" y2="738.70" stroke-width="0.9" />
<line x1="745.07" y1="708.40" x2="745.07" y2="737.00" stroke-width="1.8" />
<line x1="750.03" y1="707.74" x2="750.03" y2="737.66" stroke-width="0.6" style="stroke:#555"/>
<line x1="755.60" y1="706.70" x2="755.60" y2="738.70" stroke-width="0.9" />
<line x1="752.29" y1="708.40" x2="752.29" y2="737.00" stroke-width="1.8" />
<line x1="757.25" y1="707.74" x2="757.25" y2="737.66" stroke-width="0.6" style="stroke:#555"/>
<path d="M717.3,707.2 C721.5,716 716,729 719.6,738.6" stroke-width="1.2" fill="none" />
<path d="M722.6,708.6 C719,716 725.5,727 721.6,738.0 L724.0,737.0" stroke-width="1.0" fill="none" />
<line x1="674.00" y1="722.30" x2="842.00" y2="722.30" stroke-width="0.6" style="stroke:#666"/>
<rect x="761.4" y="713.0" width="13.5" height="19.2" fill="#9a9a9a" stroke-width="0.9"/>
<path d="M774.9,710.8 H782.2 V733.3 H774.9 Z" stroke-width="1.0" fill="#fff" />
<path d="M782.2,709.6 H809.1 V735.3 H782.2 Z" stroke-width="1.0" fill="#fff" />
<path d="M809.1,706.4 H840.9 V738.2 H809.1 Z" stroke-width="1.1" fill="#fff" />
<line x1="839.60" y1="706.40" x2="839.60" y2="738.20" stroke-width="0.8" />
<line x1="770.00" y1="722.30" x2="842.00" y2="722.30" stroke-width="0.6" stroke-dasharray="16 3 " style="stroke:#666"/>
<line x1="801.00" y1="674.70" x2="801.00" y2="735.00" stroke-width="1.0" />
<polygon points="801.00,709.60 802.45,718.10 799.55,718.10" fill="#151515" stroke="none"/>
<polygon points="801.00,735.30 799.55,726.80 802.45,726.80" fill="#151515" stroke="none"/>
<text x="799.20" y="699.50" font-size="13.0" text-anchor="start" textLength="24.4" lengthAdjust="spacingAndGlyphs" transform="rotate(-90.00 799.20 699.50)">Ø40</text>
<line x1="840.90" y1="706.40" x2="855.80" y2="706.40" stroke-width="0.95" />
<line x1="840.90" y1="738.20" x2="855.80" y2="738.20" stroke-width="0.95" />
<line x1="854.80" y1="706.40" x2="854.80" y2="738.20" stroke-width="1.0" />
<polygon points="854.80,706.40 856.25,714.90 853.35,714.90" fill="#151515" stroke="none"/>
<polygon points="854.80,738.20 853.35,729.70 856.25,729.70" fill="#151515" stroke="none"/>
<text x="853.00" y="734.50" font-size="13.0" text-anchor="start" textLength="24.4" lengthAdjust="spacingAndGlyphs" transform="rotate(-90.00 853.00 734.50)">Ø50</text>
<line x1="672.60" y1="700.00" x2="672.60" y2="722.30" stroke-width="1.0" />
<polygon points="672.60,722.30 671.10,712.80 674.10,712.80" fill="#151515" stroke="none"/>
<line x1="667.50" y1="712.60" x2="667.50" y2="731.60" stroke-width="0.5" style="stroke:#777"/>
<line x1="670.50" y1="712.60" x2="670.50" y2="731.60" stroke-width="0.5" style="stroke:#777"/>
<line x1="765.00" y1="713.30" x2="765.00" y2="731.90" stroke-width="0.5" style="stroke:#777"/>
<line x1="768.50" y1="713.30" x2="768.50" y2="731.90" stroke-width="0.5" style="stroke:#777"/>
<line x1="772.00" y1="713.30" x2="772.00" y2="731.90" stroke-width="0.5" style="stroke:#777"/>
</g>
</svg>
</body></html>
